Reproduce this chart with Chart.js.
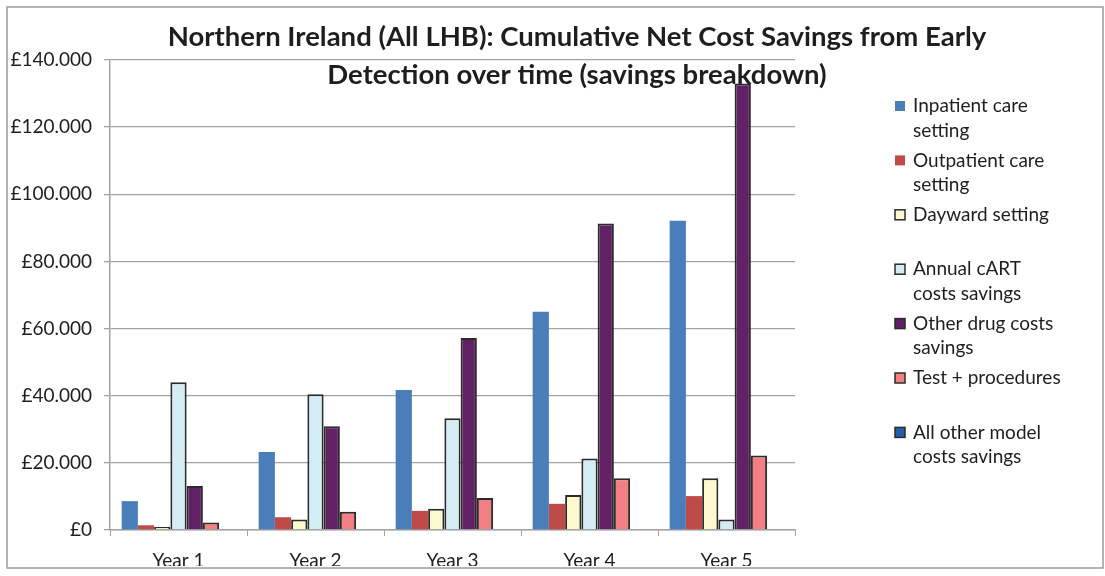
<!DOCTYPE html>
<html>
<head>
<meta charset="utf-8">
<script src="https://cdn.jsdelivr.net/npm/chart.js@4.4.1/dist/chart.umd.min.js"></script>
<style>
  html, body { margin: 0; padding: 0; background: #fff; }
  #wrap { width: 1105px; height: 576px; position: relative; }
</style>
</head>
<body>
<div id="wrap"><canvas id="savingsChart"></canvas></div>
<script>
const years = ['Year 1', 'Year 2', 'Year 3', 'Year 4', 'Year 5'];

const inpatient  = [8600, 23200, 41700, 65000, 92100];
const outpatient = [1400, 3800, 5700, 7800, 10100];
const dayward    = [900, 3100, 6300, 10400, 15400];
const cartSaving = [44000, 40400, 33300, 21300, 3100];
const otherDrug  = [13100, 30900, 57200, 91300, 133000];
const tests      = [2200, 5400, 9500, 15400, 22200];
const allOther   = [0, 0, 0, 0, 0];

// legend text, already wrapped the way the original shows it
const seriesNames = [
  ['Inpatient care', 'setting'],
  ['Outpatient care', 'setting'],
  ['Dayward setting'],
  ['Annual cART', 'costs savings'],
  ['Other drug costs', 'savings'],
  ['Test + procedures'],
  ['All other model', 'costs savings']
];
const yTickLabels = ['£0', '£20.000', '£40.000', '£60.000', '£80.000', '£100.000', '£120.000', '£140.000'];
const titleLines = [
  'Northern Ireland (All LHB): Cumulative Net Cost Savings from Early',
  'Detection over time (savings breakdown)'
];

const FONT = 'Lato, "Open Sans", sans-serif';
const EDGE = '#2b2b2b';
const GRID = '#a3a3a3';

function bar(i, data, color, outlined) {
  return {
    label: seriesNames[i].join(' '),
    data: data,
    backgroundColor: color,
    borderColor: EDGE,
    borderWidth: outlined ? 2 : 0,
    borderSkipped: 'start'
  };
}

const frameAndTitle = {
  id: 'frameAndTitle',
  beforeDraw(chart) {
    const ctx = chart.ctx;
    ctx.save();
    ctx.fillStyle = '#fff';
    ctx.fillRect(0, 0, chart.width, chart.height);
    ctx.strokeStyle = '#9c9c9c';
    ctx.lineWidth = 1.5;
    ctx.strokeRect(7, 7, 1096, 561);
    ctx.restore();
  },
  afterDraw(chart) {
    const ctx = chart.ctx;
    ctx.save();
    ctx.fillStyle = '#1e1e1e';
    ctx.font = 'bold 27.5px ' + FONT;
    ctx.textAlign = 'center';
    ctx.textBaseline = 'middle';
    ctx.fillText(titleLines[0], 577, 37);
    ctx.fillText(titleLines[1], 577, 75);

    // legend on the right
    ctx.font = '19px ' + FONT;
    ctx.textAlign = 'left';
    chart.data.datasets.forEach((ds, i) => {
      const y = 106 + i * 54.4;
      ctx.fillStyle = ds.backgroundColor;
      ctx.fillRect(895, y - 5, 10, 10);
      if (ds.borderWidth) {
        ctx.strokeStyle = EDGE;
        ctx.lineWidth = 1.5;
        ctx.strokeRect(895, y - 5, 10, 10);
      }
      ctx.fillStyle = '#1e1e1e';
      seriesNames[i].forEach((line, j) => ctx.fillText(line, 913, y + j * 24.5));
    });
    ctx.restore();
  }
};

const ctx = document.getElementById('savingsChart').getContext('2d');
new Chart(ctx, {
  type: 'bar',
  data: {
    labels: years,
    datasets: [
      bar(0, inpatient, '#4a7ebb', false),
      bar(1, outpatient, '#be4b48', false),
      bar(2, dayward, '#fcf9cf', true),
      bar(3, cartSaving, '#d4ecf3', true),
      bar(4, otherDrug, '#632165', true),
      bar(5, tests, '#f27f81', true),
      bar(6, allOther, '#2160a8', true)
    ]
  },
  options: {
    responsive: true,
    maintainAspectRatio: false,
    animation: false,
    layout: { padding: { left: 7, top: 60, right: 310, bottom: 10 } },
    datasets: { bar: { categoryPercentage: 0.83, barPercentage: 1 } },
    plugins: {
      legend: { display: false },
      title: { display: false },
      tooltip: { enabled: false }
    },
    scales: {
      x: {
        grid: { drawOnChartArea: false, drawTicks: true, tickLength: 6, color: GRID },
        border: { color: GRID, width: 1.5 },
        ticks: { font: { family: FONT, size: 19 }, color: '#1e1e1e', padding: 13 },
        afterFit(scale) { scale.height = 36; }
      },
      y: {
        min: 0,
        max: 140000,
        grid: { color: GRID, lineWidth: 1.3, tickLength: 6 },
        border: { color: GRID, width: 1.5 },
        ticks: {
          stepSize: 20000,
          font: { family: FONT, size: 19 },
          color: '#1e1e1e',
          padding: 12,
          callback: (v, i) => yTickLabels[i]
        },
        afterFit(scale) { scale.width = 103; }
      }
    }
  },
  plugins: [frameAndTitle]
});
</script>
</body>
</html>
